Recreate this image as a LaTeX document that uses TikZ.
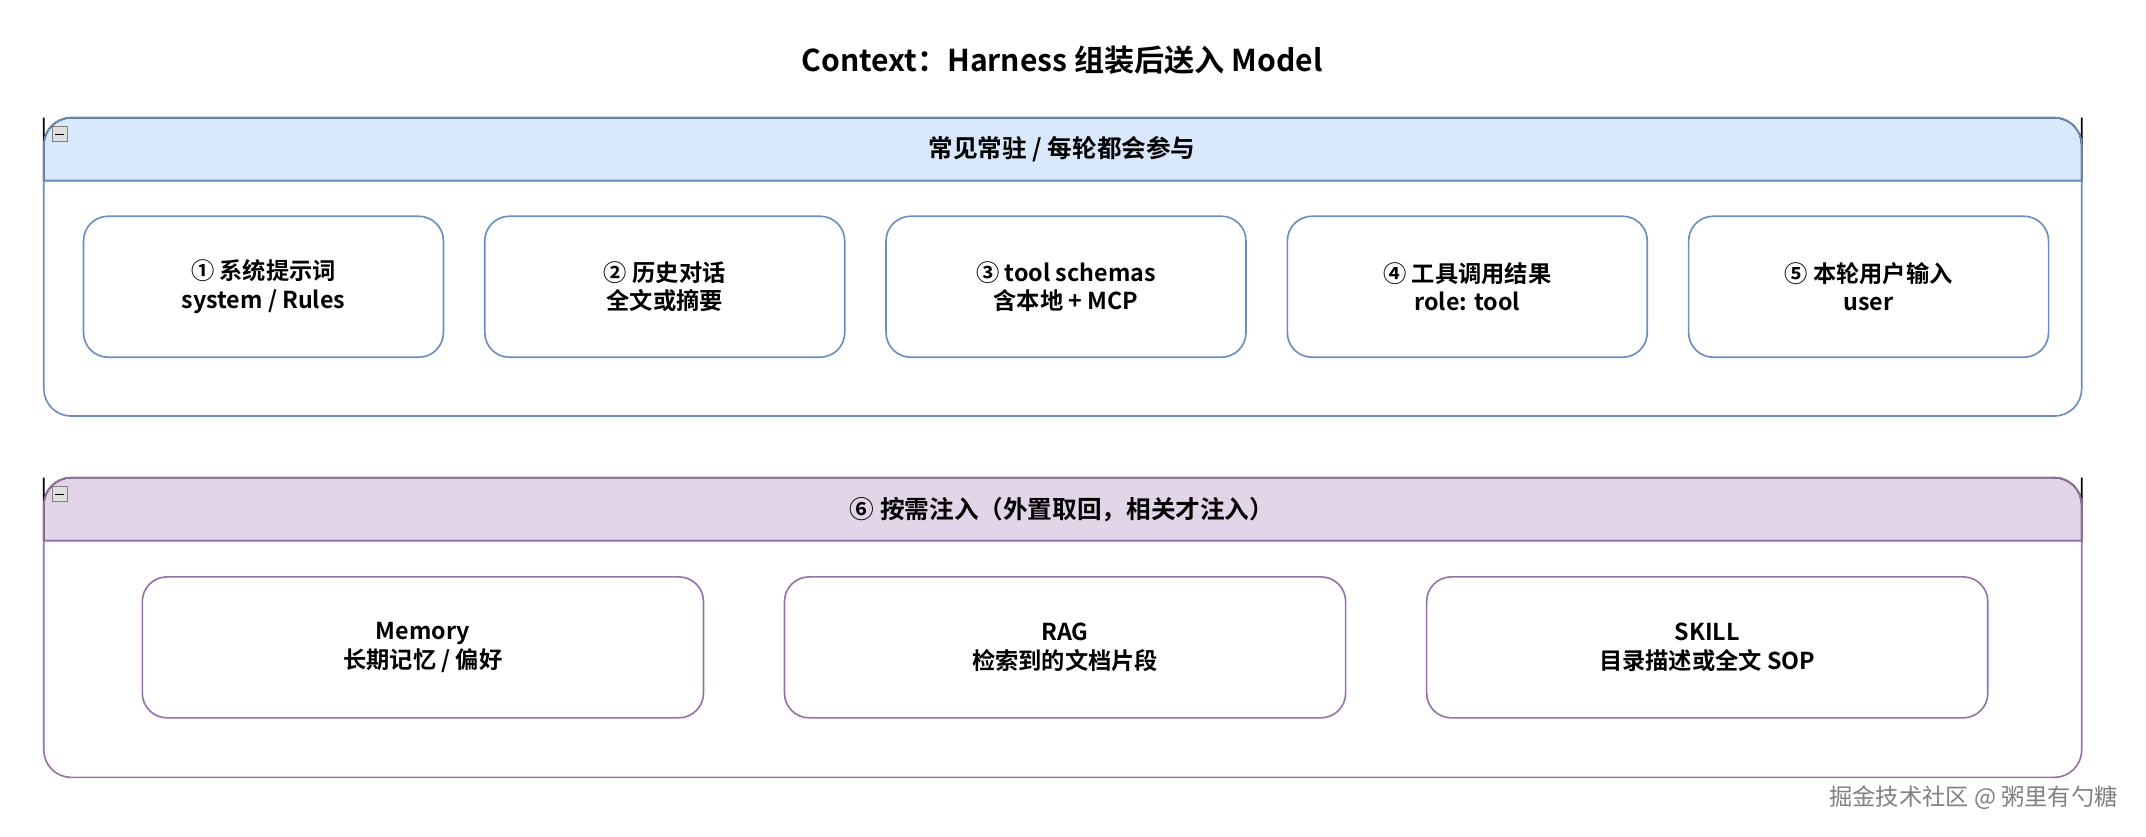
\documentclass[tikz,border=0pt]{standalone}
\usepackage{fontspec}
\setmainfont{Noto Sans CJK SC}[BoldFont={* Bold}]
\usetikzlibrary{positioning}
\definecolor{blueline}{HTML}{6C8EBF}
\definecolor{bluefill}{HTML}{DAE8FC}
\definecolor{purpleline}{HTML}{9673A6}
\definecolor{purplefill}{HTML}{E1D5E7}
\tikzset{
  item/.style={draw, line width=0.6pt, rounded corners=9pt, minimum height=51.5pt,
    align=center, font=\bfseries\fontsize{8.5}{10.5}\selectfont, inner sep=0pt},
  blueitem/.style={item, draw=blueline, minimum width=131.5pt},
  purpleitem/.style={item, draw=purpleline, minimum width=205pt},
  lane/.style={draw, line width=0.6pt, rounded corners=10pt},
  collapse/.style={draw=gray, fill=gray!25, line width=0.4pt, minimum size=5.5pt, inner sep=0pt},
}
\begin{document}
\begin{tikzpicture}[x=0.5pt, y=-0.5pt]
    \useasboundingbox (0,0) rectangle (1568,611);
    \node[font=\bfseries\fontsize{11}{13}\selectfont] (title) at (776,44) {Context：Harness 组装后送入 Model};

    % resident lane
    \path[lane, fill=bluefill] (32,132) -- (32,106) [rounded corners=10pt] -- (32,86) -- (1521,86) -- (1521,106) [sharp corners] -- (1521,132) -- cycle;
    \draw[lane, draw=blueline] (32,86) rectangle (1521,304);
    \draw[blueline, line width=0.6pt] (32,132) -- (1521,132);
    \node[collapse] (c1) at (44,98) {};
    \draw (c1.west) ++(1pt,0) -- ++(3.5pt,0);
    \node[font=\bfseries\fontsize{9}{11}\selectfont] (lane1) at (776,109) {常见常驻 / 每轮都会参与};

    \node[blueitem] (sys) at (192.5,209.5) {① 系统提示词\\system / Rules};
    \node[blueitem, right=14.5pt of sys] (hist) {② 历史对话\\全文或摘要};
    \node[blueitem, right=14.5pt of hist] (schema) {③ tool schemas\\含本地 + MCP};
    \node[blueitem, right=14.5pt of schema] (result) {④ 工具调用结果\\role: tool};
    \node[blueitem, right=14.5pt of result] (user) {⑤ 本轮用户输入\\user};

    % on-demand lane
    \path[lane, fill=purplefill] (32,395) -- (32,369) [rounded corners=10pt] -- (32,349) -- (1521,349) -- (1521,369) [sharp corners] -- (1521,395) -- cycle;
    \draw[lane, draw=purpleline] (32,349) rectangle (1521,568);
    \draw[purpleline, line width=0.6pt] (32,395) -- (1521,395);
    \node[collapse] (c2) at (44,361) {};
    \draw (c2.west) ++(1pt,0) -- ++(3.5pt,0);
    \node[font=\bfseries\fontsize{9}{11}\selectfont] (lane2) at (776,372) {⑥ 按需注入（外置取回，相关才注入）};

    \node[purpleitem] (mem) at (309,473) {Memory\\长期记忆 / 偏好};
    \node[purpleitem, right=29pt of mem] (rag) {RAG\\检索到的文档片段};
    \node[purpleitem, right=29pt of rag] (skill) {SKILL\\目录描述或全文 SOP};

    \node[gray, font=\fontsize{8.5}{10}\selectfont] (mark) at (1442,583) {掘金技术社区 @ 粥里有勺糖};
\end{tikzpicture}
\end{document}
